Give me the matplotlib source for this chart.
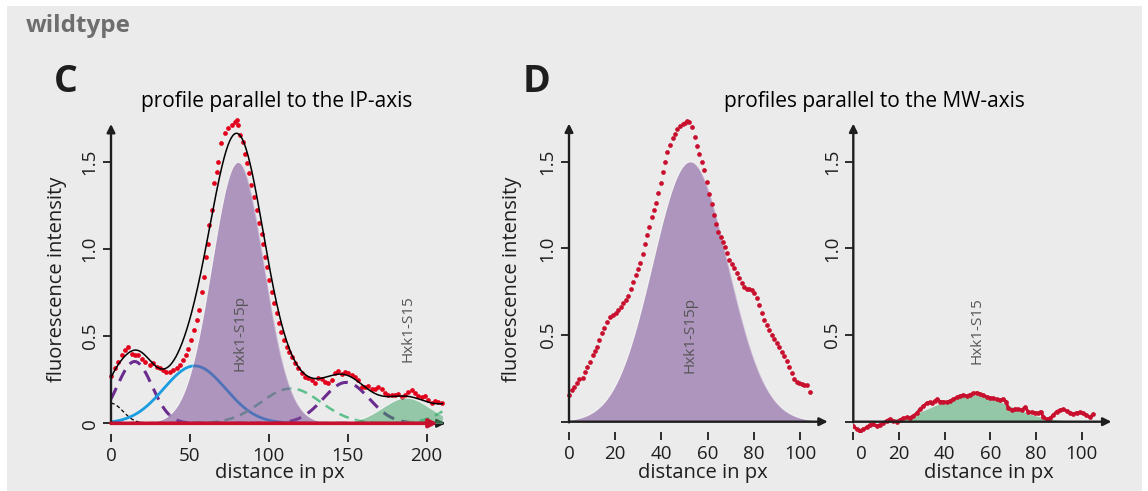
import numpy as np
import matplotlib
matplotlib.use('Agg')
import matplotlib.pyplot as plt
from matplotlib.patches import Rectangle
from matplotlib.transforms import ScaledTranslation

plt.rcParams['font.family'] = ['Open Sans', 'DejaVu Sans']

# ---------------- data ----------------
# Panel C: measured profile parallel to the IP-axis (red dots)
c_x = [0, 2.5, 4.6, 6.8, 8.9, 11.0, 13.0, 15.0, 17.0, 19.4, 21.5, 24.7, 26.8, 29.0, 31.0,
       33.0, 35.0, 37.4, 39.5, 41.6, 43.7, 45.8, 47.5, 49.0, 51.0, 52.8, 54.3, 55.8, 57.5,
       59.0, 60.2, 61.7, 62.3, 63.8, 65.5, 67.0, 68.0, 70.0, 72.2, 74.4, 76.5, 78.6, 79.6,
       80.7, 81.8, 83.4, 85.0, 86.4, 87.7, 89.0, 90.6, 92.3, 94.0, 95.5, 96.5, 97.6, 99.0,
       100.3, 101.8, 103.3, 104.9, 106.6, 108.0, 109.6, 111.3, 112.9, 114.4, 116.6, 118.7,
       120.8, 122.9, 125.0, 127.2, 129.3, 131.4, 133.5, 135.6, 137.7, 139.8, 142.0, 144.1,
       146.2, 148.3, 150.4, 152.5, 154.6, 156.8, 158.9, 161.0, 163.1, 165.2, 167.3, 169.4,
       171.6, 173.7, 175.8, 177.9, 180.0, 182.1, 184.2, 186.4, 188.5, 190.6, 192.7, 194.8,
       196.9, 199.0, 201.2, 203.3, 205.4, 207.5, 209.6]
c_y = [0.27, 0.32, 0.35, 0.39, 0.42, 0.44, 0.40, 0.39, 0.39, 0.37, 0.355, 0.335, 0.345, 0.325,
       0.316, 0.306, 0.297, 0.297, 0.306, 0.316, 0.335, 0.364, 0.393, 0.425, 0.479, 0.536,
       0.594, 0.65, 0.757, 0.843, 0.958, 1.03, 1.14, 1.226, 1.38, 1.446, 1.504, 1.609, 1.667,
       1.695, 1.715, 1.734, 1.743, 1.715, 1.657, 1.619, 1.55, 1.494, 1.437, 1.37, 1.30, 1.226,
       1.149, 1.09, 1.03, 0.958, 0.90, 0.824, 0.757, 0.69, 0.632, 0.575, 0.527, 0.479, 0.44,
       0.412, 0.383, 0.345, 0.316, 0.287, 0.268, 0.259, 0.249, 0.23, 0.259, 0.253, 0.24, 0.23,
       0.249, 0.287, 0.303, 0.284, 0.297, 0.287, 0.278, 0.268, 0.249, 0.21, 0.207, 0.215, 0.20,
       0.20, 0.21, 0.20, 0.176, 0.163, 0.163, 0.163, 0.169, 0.149, 0.163, 0.182, 0.19, 0.172,
       0.157, 0.149, 0.157, 0.134, 0.115, 0.13, 0.125, 0.115]

# Panel C: fitted Gaussian components (center, amplitude, width)
c_centers = [0, 15, 53, 80.5, 114, 149, 187, 228]
c_amps = [0.115, 0.355, 0.33, 1.5, 0.2, 0.235, 0.145, 0.14]
c_sigmas = [7.5, 11, 19.5, 16.5, 19, 14.5, 15, 15]
c_names = ['', '', '', 'Hxk1-S15p', '', '', 'Hxk1-S15', '']

# Panel D (left): profile through Hxk1-S15p spot
dl_x = [0, 1.2, 2.2, 3.3, 4.5, 5.9, 6.9, 7.9, 9.1, 10.2, 11.3, 12.3, 13.1, 14.1, 15.2, 16.3,
        17.7, 19.2, 20.3, 21.4, 22.4, 23.5, 24.7, 25.7, 26.8, 27.8, 29.0, 30.0, 30.7, 31.9,
        32.9, 33.9, 34.8, 35.8, 36.8, 37.7, 38.7, 39.7, 40.8, 41.6, 42.6, 43.7, 44.9, 45.9,
        46.9, 48.1, 49.2, 50.2, 51.2, 52.1, 53.1, 54.5, 55.6, 56.4, 57.4, 58.4, 59.6, 60.6,
        61.7, 62.8, 63.6, 64.6, 65.6, 66.5, 67.6, 68.6, 69.4, 70.4, 71.4, 72.6, 73.7, 74.8,
        75.8, 76.9, 78.0, 79.1, 80.1, 81.2, 82.4, 83.4, 84.4, 85.6, 86.7, 87.7, 88.7, 89.9,
        91.0, 92.0, 93.1, 94.2, 95.4, 96.4, 97.4, 98.6, 99.7, 100.7, 101.7, 102.9, 104.3]
dl_y = [0.154, 0.183, 0.2, 0.225, 0.244, 0.254, 0.288, 0.317, 0.346, 0.385, 0.41, 0.433, 0.471,
        0.51, 0.538, 0.577, 0.606, 0.615, 0.629, 0.644, 0.663, 0.683, 0.702, 0.725, 0.763,
        0.808, 0.846, 0.879, 0.913, 0.967, 1.025, 1.077, 1.125, 1.179, 1.221, 1.26, 1.317,
        1.375, 1.442, 1.5, 1.558, 1.596, 1.635, 1.663, 1.687, 1.706, 1.717, 1.725, 1.737,
        1.729, 1.702, 1.644, 1.59, 1.544, 1.5, 1.452, 1.385, 1.313, 1.256, 1.192, 1.14, 1.096,
        1.067, 1.038, 1.01, 0.971, 0.933, 0.91, 0.885, 0.856, 0.827, 0.802, 0.779, 0.763,
        0.767, 0.76, 0.74, 0.712, 0.673, 0.629, 0.587, 0.558, 0.529, 0.5, 0.475, 0.452, 0.429,
        0.404, 0.379, 0.352, 0.317, 0.283, 0.244, 0.231, 0.221, 0.217, 0.212, 0.212, 0.173]
dl_center, dl_amp, dl_sigma = 52.5, 1.5, 16.3

# Panel D (right): profile through Hxk1-S15 spot
dr_x = [0, 1.5, 2.9, 4.4, 5.8, 7.3, 8.8, 10.2, 11.7, 13.1, 14.6, 16.1, 17.5, 19.0, 20.4, 21.9,
        23.4, 24.8, 26.3, 27.7, 29.2, 30.7, 32.1, 33.6, 34.3, 35.8, 36.8, 38.0, 39.4, 40.9,
        42.3, 43.8, 45.3, 46.7, 48.2, 49.6, 51.1, 52.6, 54.0, 55.5, 56.9, 58.4, 59.9, 61.3,
        62.8, 64.2, 65.7, 66.9, 67.9, 69.3, 70.8, 72.3, 73.7, 75.2, 76.6, 78.1, 79.5, 81.0,
        82.0, 83.2, 84.6, 86.1, 87.6, 89.0, 90.5, 92.0, 93.4, 94.9, 96.3, 97.8, 99.2, 100.7,
        102.1, 103.6, 105.0]
dr_y = [-0.025, -0.044, -0.052, -0.044, -0.033, -0.019, -0.015, -0.025, -0.019, -0.01, 0.006,
        0.015, 0.006, 0.0, 0.01, 0.019, 0.025, 0.023, 0.033, 0.048, 0.071, 0.09, 0.106, 0.112,
        0.106, 0.121, 0.129, 0.115, 0.115, 0.113, 0.119, 0.129, 0.14, 0.148, 0.154, 0.148,
        0.156, 0.163, 0.167, 0.16, 0.152, 0.144, 0.138, 0.135, 0.129, 0.125, 0.131, 0.115,
        0.077, 0.067, 0.073, 0.071, 0.067, 0.083, 0.058, 0.054, 0.052, 0.048, 0.058, 0.029,
        0.013, 0.019, 0.038, 0.058, 0.067, 0.071, 0.063, 0.052, 0.044, 0.052, 0.054, 0.048,
        0.038, 0.025, 0.042]
dr_center, dr_amp, dr_sigma = 52.0, 0.155, 16.0

y_ticks = [0, 0.5, 1.0, 1.5]
y_ticklabels = ['0', '0.5', '1.0', '1.5']
c_xticks = [0, 50, 100, 150, 200]
d_xticks = [0, 20, 40, 60, 80, 100]

# ---------------- styling ----------------
W, H = 1148, 491
BG = '#ebebeb'
INK = '#1e1e1e'
PURPLE_LINE = '#6a2c8e'
PURPLE_FILL = '#7d4f98'
GREEN_LINE = '#5cbf8c'
GREEN_FILL = '#3ea565'
BLUE = '#1a9de0'
RED_DOT = '#e2001a'
CRIMSON = '#c8102e'

fig = plt.figure(figsize=(W / 100, H / 100), dpi=100)
fig.patch.set_facecolor('white')
fig.patches.append(Rectangle((7 / W, 0), (1142 - 7) / W, (H - 6) / H,
                             transform=fig.transFigure, facecolor=BG,
                             edgecolor='none', zorder=-10))


def gauss(x, c, a, s):
    return a * np.exp(-(x - c) ** 2 / (2 * s ** 2))


def add_axes_px(x0px, xscale, y0py, yscale, xlim, ylim):
    left = x0px + xlim[0] * xscale
    right = x0px + xlim[1] * xscale
    bottom = y0py - ylim[0] * yscale
    top = y0py - ylim[1] * yscale
    ax = fig.add_axes([left / W, (H - bottom) / H, (right - left) / W, (bottom - top) / H])
    ax.set_xlim(*xlim)
    ax.set_ylim(*ylim)
    ax.patch.set_visible(False)
    return ax


def style_axes(ax, xticks, ylabels, xmax, ymax, xlabel_px, ylabel_px=None):
    for s in ax.spines.values():
        s.set_visible(False)
    ax.set_xticks(xticks)
    ax.set_yticks(y_ticks)
    ax.set_yticklabels(ylabels)
    ax.tick_params(direction='out', length=6, width=1.3, color=INK,
                   labelsize=13.5, labelcolor=INK, pad=3.5)
    ax.tick_params(axis='y', labelrotation=90, pad=3)
    for lab in ax.get_yticklabels():
        lab.set_va('center')
    kw = dict(arrowstyle='-|>', color=INK, lw=1.7, mutation_scale=12,
              shrinkA=0, shrinkB=0)
    ax.annotate('', xy=(xmax, 0), xytext=(0, 0), arrowprops=kw, annotation_clip=False)
    ax.annotate('', xy=(0, ymax), xytext=(0, -0.004), arrowprops=kw, annotation_clip=False)
    inv = ax.transAxes.inverted()
    ax.set_xlabel('distance in px', fontsize=14.5, color=INK)
    ax.xaxis.set_label_coords(*inv.transform((xlabel_px[0], H - xlabel_px[1])))
    ax.xaxis.label.set_va('center')
    if ylabel_px is not None:
        ax.set_ylabel('fluorescence intensity', fontsize=14.5, color=INK)
        ax.yaxis.set_label_coords(*inv.transform((ylabel_px[0], H - ylabel_px[1])))
        ax.yaxis.label.set_va('center')


# ---------------- panel C ----------------
axC = add_axes_px(111, 1.578, 423.3, 174.0, (0, 212), (-0.06, 1.72))
xg = np.linspace(0, 210, 700)
comps = [gauss(xg, c, a, s) for c, a, s in zip(c_centers, c_amps, c_sigmas)]
axC.plot(xg, comps[0], color='black', lw=0.9, dashes=(3, 2), zorder=2)
axC.plot(xg, comps[1], color=PURPLE_LINE, lw=2.2, dashes=(4, 2.5), zorder=2)
axC.plot(xg, comps[2], color=BLUE, lw=2.0, zorder=2)
axC.plot(xg, comps[4], color=GREEN_LINE, lw=1.8, dashes=(4, 2.5), zorder=2)
axC.plot(xg, comps[5], color=PURPLE_LINE, lw=2.2, dashes=(4, 2.5), zorder=2)
axC.plot(xg, comps[7], color=GREEN_LINE, lw=1.8, dashes=(4, 2.5), zorder=2)
axC.plot(c_x, c_y, 'o', color=RED_DOT, ms=3.4, mew=0, zorder=3, clip_on=False)
axC.fill_between(xg, 0, comps[3], color=PURPLE_FILL, alpha=0.55, lw=0, zorder=4)
axC.plot(xg, comps[3], color='white', lw=0.8, alpha=0.35, zorder=4)
axC.fill_between(xg, 0, comps[6], color=GREEN_FILL, alpha=0.5, lw=0, zorder=4)
axC.plot(xg, comps[6], color='white', lw=0.8, alpha=0.35, zorder=4)
axC.plot(xg, np.sum(comps, axis=0), color='black', lw=1.1, zorder=5)
axC.annotate('', xy=(207, 0), xytext=(0, 0), zorder=6,
             arrowprops=dict(arrowstyle='-|>', color=CRIMSON, lw=2.6,
                             mutation_scale=12, shrinkA=0, shrinkB=0))
for c, name in zip(c_centers, c_names):
    if name:
        axC.text(c + 1, 0.735, name, rotation=90, ha='center', va='top',
                 fontsize=11, color='#555555', zorder=7)
style_axes(axC, c_xticks, y_ticklabels, 212, 1.72, (280, 473), (57, 279))

# ---------------- panel D left ----------------
axDL = add_axes_px(569, 2.31, 421.7, 173.3, (0, 112), (-0.06, 1.72))
xd = np.linspace(0, 105, 500)
gl = gauss(xd, dl_center, dl_amp, dl_sigma)
axDL.fill_between(xd, 0, gl, color=PURPLE_FILL, alpha=0.55, lw=0, zorder=2)
axDL.plot(xd, gl, color='white', lw=0.8, alpha=0.35, zorder=2)
axDL.plot(dl_x, dl_y, 'o', color=CRIMSON, ms=3.4, mew=0, zorder=3, clip_on=False)
axDL.text(dl_center, 0.72, 'Hxk1-S15p', rotation=90, ha='center', va='top',
          fontsize=11, color='#555555', zorder=7)
style_axes(axDL, d_xticks, [''] + y_ticklabels[1:], 112, 1.72, (703, 473), (512, 279))

# ---------------- panel D right ----------------
axDR = add_axes_px(853.3, 2.284, 421.7, 173.3, (0, 113), (-0.06, 1.72))
gr = gauss(xd, dr_center, dr_amp, dr_sigma)
axDR.fill_between(xd, 0, gr, color=GREEN_FILL, alpha=0.5, lw=0, zorder=2)
axDR.plot(dr_x, dr_y, '-o', color=CRIMSON, lw=2.2, ms=3.4, mew=0, zorder=3)
axDR.text(dr_center + 2, 0.72, 'Hxk1-S15', rotation=90, ha='center', va='top',
          fontsize=11, color='#555555', zorder=7)
style_axes(axDR, d_xticks, [''] + y_ticklabels[1:], 113, 1.72, (989, 473))
lab0 = axDR.xaxis.get_major_ticks()[0].label1
lab0.set_transform(lab0.get_transform() + ScaledTranslation(8 / 100, 0, fig.dpi_scale_trans))

# ---------------- titles ----------------
fig.text(26 / W, 1 - 32 / H, 'wildtype', fontsize=17.5, fontweight='bold',
         color='#6e6e6e', ha='left', va='baseline')
fig.text(66 / W, 1 - 92 / H, 'C', fontsize=27, fontweight='bold', color=INK,
         ha='center', va='baseline')
fig.text(537 / W, 1 - 92 / H, 'D', fontsize=27, fontweight='bold', color=INK,
         ha='center', va='baseline')
fig.text(277 / W, 1 - 101 / H, 'profile parallel to the IP-axis', fontsize=15,
         color='black', ha='center', va='center')
fig.text(874 / W, 1 - 101 / H, 'profiles parallel to the MW-axis', fontsize=15,
         color='black', ha='center', va='center')

fig.savefig('out.png', dpi=100, facecolor='white')
